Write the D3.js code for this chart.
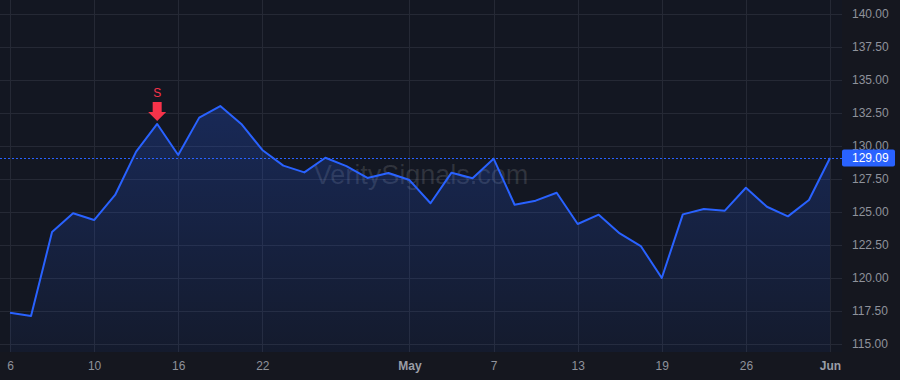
<!DOCTYPE html>
<html>
<head>
<meta charset="utf-8">
<script src="https://cdn.jsdelivr.net/npm/d3@7"></script>
<style>
  html, body { margin: 0; padding: 0; background: #15171f; }
  #chart { width: 900px; height: 380px; }
  text { font-family: "Liberation Sans", Arial, sans-serif; }
</style>
</head>
<body>
<div id="chart"></div>
<script>
const dates = [
  "2015-04-06", "2015-04-07", "2015-04-08", "2015-04-09", "2015-04-10",
  "2015-04-13", "2015-04-14", "2015-04-15", "2015-04-16", "2015-04-17",
  "2015-04-20", "2015-04-21", "2015-04-22", "2015-04-23", "2015-04-24",
  "2015-04-27", "2015-04-28", "2015-04-29", "2015-04-30", "2015-05-01",
  "2015-05-04", "2015-05-05", "2015-05-06", "2015-05-07", "2015-05-08",
  "2015-05-11", "2015-05-12", "2015-05-13", "2015-05-14", "2015-05-15",
  "2015-05-18", "2015-05-19", "2015-05-20", "2015-05-21", "2015-05-22",
  "2015-05-26", "2015-05-27", "2015-05-28", "2015-05-29", "2015-06-01"
];

const closes = [
  117.37, 117.12, 123.48, 124.90, 124.39,
  126.29, 129.57, 131.67, 129.32, 132.15,
  133.03, 131.67, 129.70, 128.51, 128.00,
  129.11, 128.48, 127.58, 127.95, 127.42,
  125.66, 127.98, 127.55, 129.04, 125.55,
  125.86, 126.46, 124.09, 124.80, 123.38,
  122.42, 120.00, 124.82, 125.23, 125.10,
  126.84, 125.40, 124.67, 125.91, 129.09
];

const tickDates = ["2015-04-06", "2015-04-10", "2015-04-16", "2015-04-22", "2015-05-01",
  "2015-05-07", "2015-05-13", "2015-05-19", "2015-05-26", "2015-06-01"];
const tickLabels = ["6", "10", "16", "22", "May", "7", "13", "19", "26", "Jun"];
const boldTicks = ["May", "Jun"];

const priceTicks = [115, 117.5, 120, 122.5, 125, 127.5, 130, 132.5, 135, 137.5, 140];

const lastPrice = 129.09;
const signalDates = ["2015-04-15"];
const signalLabels = ["S"];

const WIDTH = 900, HEIGHT = 380;
const plotW = 842, plotH = 352;

const data = dates.map((d, i) => ({ date: d, close: closes[i] }));

const svg = d3.select("#chart")
  .append("svg")
  .attr("width", WIDTH)
  .attr("height", HEIGHT);

svg.append("rect")
  .attr("width", WIDTH).attr("height", HEIGHT)
  .attr("fill", "#15171f");

svg.append("rect")
  .attr("width", plotW).attr("height", plotH)
  .attr("fill", "#131722");

const x = d3.scalePoint().domain(dates).range([10, 830]);
const y = d3.scaleLinear().domain([115, 140]).range([344, 14]);

// grid
svg.append("g")
  .selectAll("line")
  .data(priceTicks)
  .enter().append("line")
  .attr("x1", 0).attr("x2", plotW)
  .attr("y1", d => Math.round(y(d)) + 0.5)
  .attr("y2", d => Math.round(y(d)) + 0.5)
  .attr("stroke", "#252935");

svg.append("g")
  .selectAll("line")
  .data(tickDates)
  .enter().append("line")
  .attr("y1", 0).attr("y2", plotH)
  .attr("x1", d => Math.round(x(d)) + 0.5)
  .attr("x2", d => Math.round(x(d)) + 0.5)
  .attr("stroke", "#252935");

// watermark
svg.append("text")
  .attr("x", plotW / 2)
  .attr("y", 175)
  .attr("text-anchor", "middle")
  .attr("dominant-baseline", "central")
  .style("font-size", "27px")
  .style("fill", "rgba(255,255,255,0.13)")
  .text("VeritySignals.com");

// area gradient
const grad = svg.append("defs").append("linearGradient")
  .attr("id", "areaGrad")
  .attr("gradientUnits", "userSpaceOnUse")
  .attr("x1", 0).attr("x2", 0)
  .attr("y1", y(d3.max(closes))).attr("y2", plotH);
grad.append("stop").attr("offset", "0%").attr("stop-color", "#2962ff").attr("stop-opacity", 0.24);
grad.append("stop").attr("offset", "100%").attr("stop-color", "#2962ff").attr("stop-opacity", 0.05);

const area = d3.area()
  .x(d => x(d.date))
  .y0(plotH)
  .y1(d => y(d.close));

const line = d3.line()
  .x(d => x(d.date))
  .y(d => y(d.close));

svg.append("path")
  .datum(data)
  .attr("d", area)
  .attr("fill", "url(#areaGrad)");

svg.append("path")
  .datum(data)
  .attr("d", line)
  .attr("fill", "none")
  .attr("stroke", "#2962ff")
  .attr("stroke-width", 2)
  .attr("stroke-linejoin", "round");

// last price line
svg.append("line")
  .attr("x1", 0).attr("x2", plotW)
  .attr("y1", Math.round(y(lastPrice)) + 0.5)
  .attr("y2", Math.round(y(lastPrice)) + 0.5)
  .attr("stroke", "#2962ff")
  .attr("stroke-dasharray", "2,2");

// price axis
const yAxis = svg.append("g")
  .attr("transform", `translate(${plotW}, 0)`)
  .call(d3.axisRight(y).tickValues(priceTicks).tickSize(0).tickPadding(10).tickFormat(d3.format(".2f")))
  .call(g => g.select(".domain").remove());
yAxis.selectAll("text")
  .style("font-size", "12px")
  .style("fill", "#8f929b")
  .attr("font-family", null);

// time axis
const xAxis = svg.append("g")
  .attr("transform", `translate(0, ${plotH})`)
  .call(d3.axisBottom(x).tickValues(tickDates).tickSize(0).tickPadding(9)
    .tickFormat(d => tickLabels[tickDates.indexOf(d)]))
  .call(g => g.select(".domain").remove());
xAxis.selectAll("text")
  .style("font-size", "12px")
  .style("fill", d => boldTicks.includes(tickLabels[tickDates.indexOf(d)]) ? "#9a9da6" : "#8f929b")
  .style("font-weight", d => boldTicks.includes(tickLabels[tickDates.indexOf(d)]) ? "bold" : "normal")
  .attr("font-family", null);

// last price label (covers the 130.00 tick, as in the original)
const ly = y(lastPrice);
svg.append("rect")
  .attr("x", plotW).attr("y", ly - 8.5)
  .attr("width", 53).attr("height", 17)
  .attr("rx", 2)
  .attr("fill", "#2962ff");
svg.append("text")
  .attr("x", plotW + 10).attr("y", ly)
  .attr("dy", "0.35em")
  .style("font-size", "12px")
  .style("fill", "#ffffff")
  .text(d3.format(".2f")(lastPrice));

// sell signals
signalDates.forEach((sd, i) => {
  const px = x(sd);
  const py = y(data.find(d => d.date === sd).close);
  const tip = py - 3;
  svg.append("path")
    .attr("d", `M${px - 4.5},${tip - 19} L${px + 4.5},${tip - 19} L${px + 4.5},${tip - 9} L${px + 9},${tip - 9} L${px},${tip} L${px - 9},${tip - 9} L${px - 4.5},${tip - 9} Z`)
    .attr("fill", "#f7334a");
  svg.append("text")
    .attr("x", px).attr("y", tip - 24)
    .attr("text-anchor", "middle")
    .style("font-size", "12px")
    .style("fill", "#f7334a")
    .text(signalLabels[i]);
});
</script>
</body>
</html>
